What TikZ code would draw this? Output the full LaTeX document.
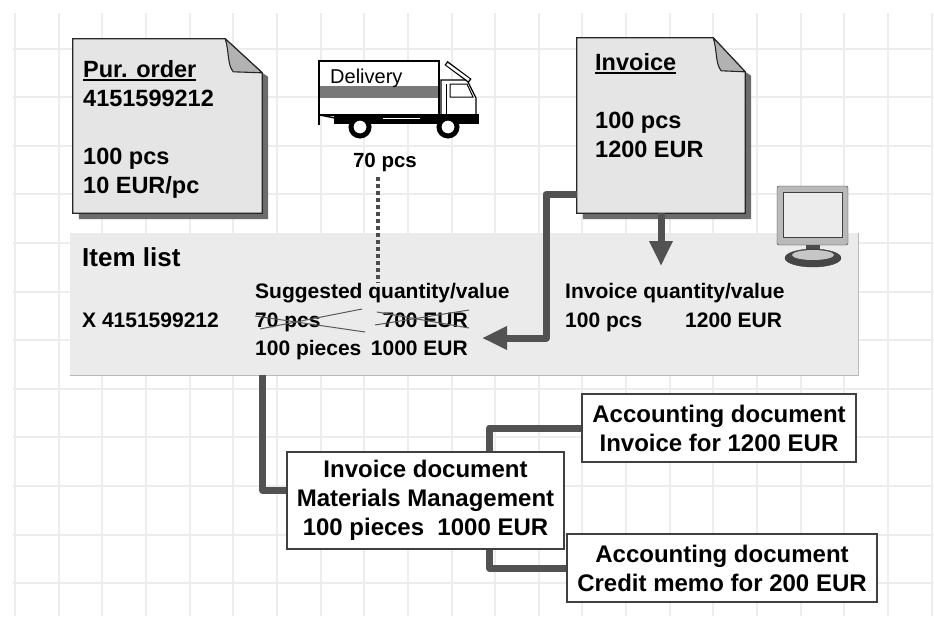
\documentclass[tikz,border=0pt]{standalone}
\usepackage{fontspec}
\setmainfont{Liberation Sans}
\usetikzlibrary{calc, positioning, arrows.meta}

% underlined heading on a paper sheet
\newcommand{\ultitle}[1]{\setbox0\hbox{#1}\rlap{\rule[-4pt]{\wd0}{1.8pt}}\box0}

% paper sheet with folded corner behind a node: name, fold width, fold height
\newcommand{\docpage}[3]{%
  \fill[black!58] ($(#1.north west)+(6,6)$) -- ($(#1.north east)+(-#2,6)$)
    -- ($(#1.north east)+(0,#3)$) -- ($(#1.north east)+(6,#3+4)$)
    -- ($(#1.south east)+(6,6)$) -- ($(#1.south west)+(6,6)$) -- cycle;
  \filldraw[fill=gray!20, draw=black!85, line width=1.3pt] (#1.south west) -- (#1.north west)
    -- ($(#1.north east)+(-#2,0)$) -- ($(#1.north east)+(0,#3)$) -- (#1.south east) -- cycle;
  \filldraw[fill=gray!60, draw=black!85, line width=1.1pt, line join=round]
    ($(#1.north east)+(-#2,0)$) .. controls ($(#1.north east)+(4-#2,12)$) and ($(#1.north east)+(2-#2,26)$)
    .. ($(#1.north east)+(8-#2,#3-1)$) -- ($(#1.north east)+(0,#3)$) -- cycle;
}

\begin{document}
\begin{tikzpicture}[x=1pt, y=-1pt, >=latex,
    gridline/.style={black!7, line width=2pt},
    docbody/.style={inner sep=0pt, draw=none},
    doctext/.style={inner sep=0pt, align=left, font=\fontsize{23.5pt}{29pt}\selectfont\bfseries},
    listtext/.style={inner sep=0pt, font=\fontsize{21pt}{25pt}\selectfont\bfseries},
    panel/.style={fill=gray!16, inner sep=0pt},
    docbox/.style={draw=black!75, line width=1.4pt, fill=white, align=center, inner sep=0pt,
                   font=\fontsize{24pt}{29pt}\selectfont\bfseries},
    conn/.style={black!68, line width=7pt, line join=round},
    bigtip/.style={-{Triangle[length=25pt, width=22pt]}},
    dotline/.style={black!70, line width=3.5pt, dash pattern=on 3.5pt off 3.5pt},
    strike/.style={black!65, line width=1pt}]

    \useasboundingbox (0,0) rectangle (934,616);
    \fill[white] (0,0) rectangle (934,616);

    % 1. Background grid
    \foreach \i in {0,...,21}
        \draw[gridline] ({15+43.65*\i},13) -- ({15+43.65*\i},616);
    \foreach \j in {1,...,12}
        \draw[gridline] (13,{48.6*\j}) -- (934,{48.6*\j});

    % 2. Purchase order sheet (text anchored on its last line)
    \node[docbody, minimum width=189pt, minimum height=174pt] (pur) at (167.5,126) {};
    \docpage{pur}{37}{34}
    \node[doctext, anchor=base west] (purtxt) at (83,193)
        {\ultitle{Pur. order}\\4151599212\\~\\100 pcs\\10 EUR/pc};

    % 3. Delivery truck
    \filldraw[fill=white, line width=1.2pt] (319,61) rectangle (439,115);
    \fill[black!53] (320,86) rectangle (438,98);
    \node[inner sep=0pt, anchor=base west, font=\fontsize{20pt}{24pt}\selectfont] (deliv) at (330,83) {Delivery};
    \filldraw[fill=white, line width=1.2pt] (441,122) -- (441,80) -- (467,80) -- (476,98) -- (476,122) -- cycle;
    \draw[line width=1pt] (450,84) -- (467,84) -- (473,97) -- (450,97) -- cycle;
    \draw[line width=1pt] (446,84) -- (446,118);
    \draw[line width=5pt] (446,63) -- (470,81);
    \draw[white, line width=2.5pt] (447,64) -- (469,80);
    \fill (334,114) rectangle (479,124);
    \draw[line width=1.5pt] (319,111) -- (319,125);
    \draw[line width=1.5pt] (320,115) -- (345,120);
    \draw[white, line width=1pt] (383,118) -- (420,118);
    \filldraw[fill=white, line width=5pt] (360,127) circle (9pt);
    \filldraw[fill=white, line width=5pt] (448,127) circle (9pt);
    \node[listtext, font=\fontsize{20.5pt}{25pt}\selectfont\bfseries, anchor=base] (qty) at (385,167) {70 pcs};

    % 4. Incoming invoice sheet
    \node[docbody, minimum width=168pt, minimum height=175pt] (invdoc) at (661,125.5) {};
    \docpage{invdoc}{32}{34}
    \node[doctext, anchor=base west] (invtxt) at (595,157)
        {\ultitle{Invoice}\\~\\100 pcs\\1200 EUR};

    % 5. Item list panel
    \node[panel, minimum width=788pt, minimum height=142pt] (items) at (464,304) {};
    \draw[gray!55, line width=1pt] (items.south west) -- (items.south east) -- (items.north east);
    \node[listtext, font=\fontsize{26pt}{30pt}\selectfont\bfseries, anchor=base west] (itemhead) at (82,266) {Item list};
    \node[listtext, anchor=base west] (itemno) at (82,327) {X 4151599212};
    \node[listtext, anchor=base west] (sugg) at (255,298) {Suggested quantity/value};
    \node[listtext, anchor=base west] (oldqty) at (255,327) {70 pcs};
    \node[listtext, anchor=base east] (oldval) at (468,327) {700 EUR};
    \node[listtext, anchor=base west] (newqty) at (255,355) {100 pieces};
    \node[listtext, anchor=base east] (newval) at (468,355) {1000 EUR};
    \node[listtext, anchor=base west] (invq) at (565,298) {Invoice quantity/value};
    \node[listtext, anchor=base west] (invpcs) at (565,327) {100 pcs};
    \node[listtext, anchor=base west] (inveur) at (685,327) {1200 EUR};

    % crossed out suggestion
    \draw[strike] (255,316) -- (365,332);
    \draw[strike] (260,329) -- (362,309);
    \draw[strike] (377,312) -- (469,328);
    \draw[strike] (375,325) -- (469,310);

    % 6. Monitor
    \filldraw[fill=gray!55, draw=gray!40!black, rounded corners=2pt] (777,186) rectangle (848,245);
    \filldraw[fill=gray!15, draw=gray!50!black] (783,192) rectangle (842,237);
    \fill[gray!60!black] (806,245) rectangle (820,250);
    \filldraw[fill=gray!55!black, draw=gray!45!black] (813,258) ellipse (28pt and 9pt);
    \fill[gray!45] (813,255) ellipse (21pt and 5pt);

    % 7. Posted documents
    \node[docbox, minimum width=277pt, minimum height=97pt] (invbox) at (425.5,500.5)
        {Invoice document\\Materials Management\\100 pieces\ \ 1000 EUR};
    \node[docbox, minimum width=274pt, minimum height=68pt] (acc1) at (719,428)
        {Accounting document\\Invoice for 1200 EUR};
    \node[docbox, minimum width=310pt, minimum height=68pt] (acc2) at (722,568)
        {Accounting document\\Credit memo for 200 EUR};

    % 8. Connectors
    \coordinate (dotend) at (378,283);
    \coordinate (bend) at (546,338);
    \coordinate (valtip) at (482,338);
    \coordinate (qtytip) at (661,266);
    \draw[dotline] ($(dotend |- qty.south)+(0,6)$) -- (dotend);
    \draw[conn, bigtip] ([yshift=19pt]invdoc.south west) -| (bend) -- (valtip);
    \draw[conn, bigtip] (invdoc.south) -- (qtytip);
    \draw[conn] ([xshift=193pt]items.south west) |- ([yshift=10pt]invbox.west);
    \draw[conn] ([xshift=203pt]invbox.north west) |- (acc1.west);
    \draw[conn] ([xshift=203pt]invbox.south west) |- (acc2.west);

\end{tikzpicture}
\end{document}
